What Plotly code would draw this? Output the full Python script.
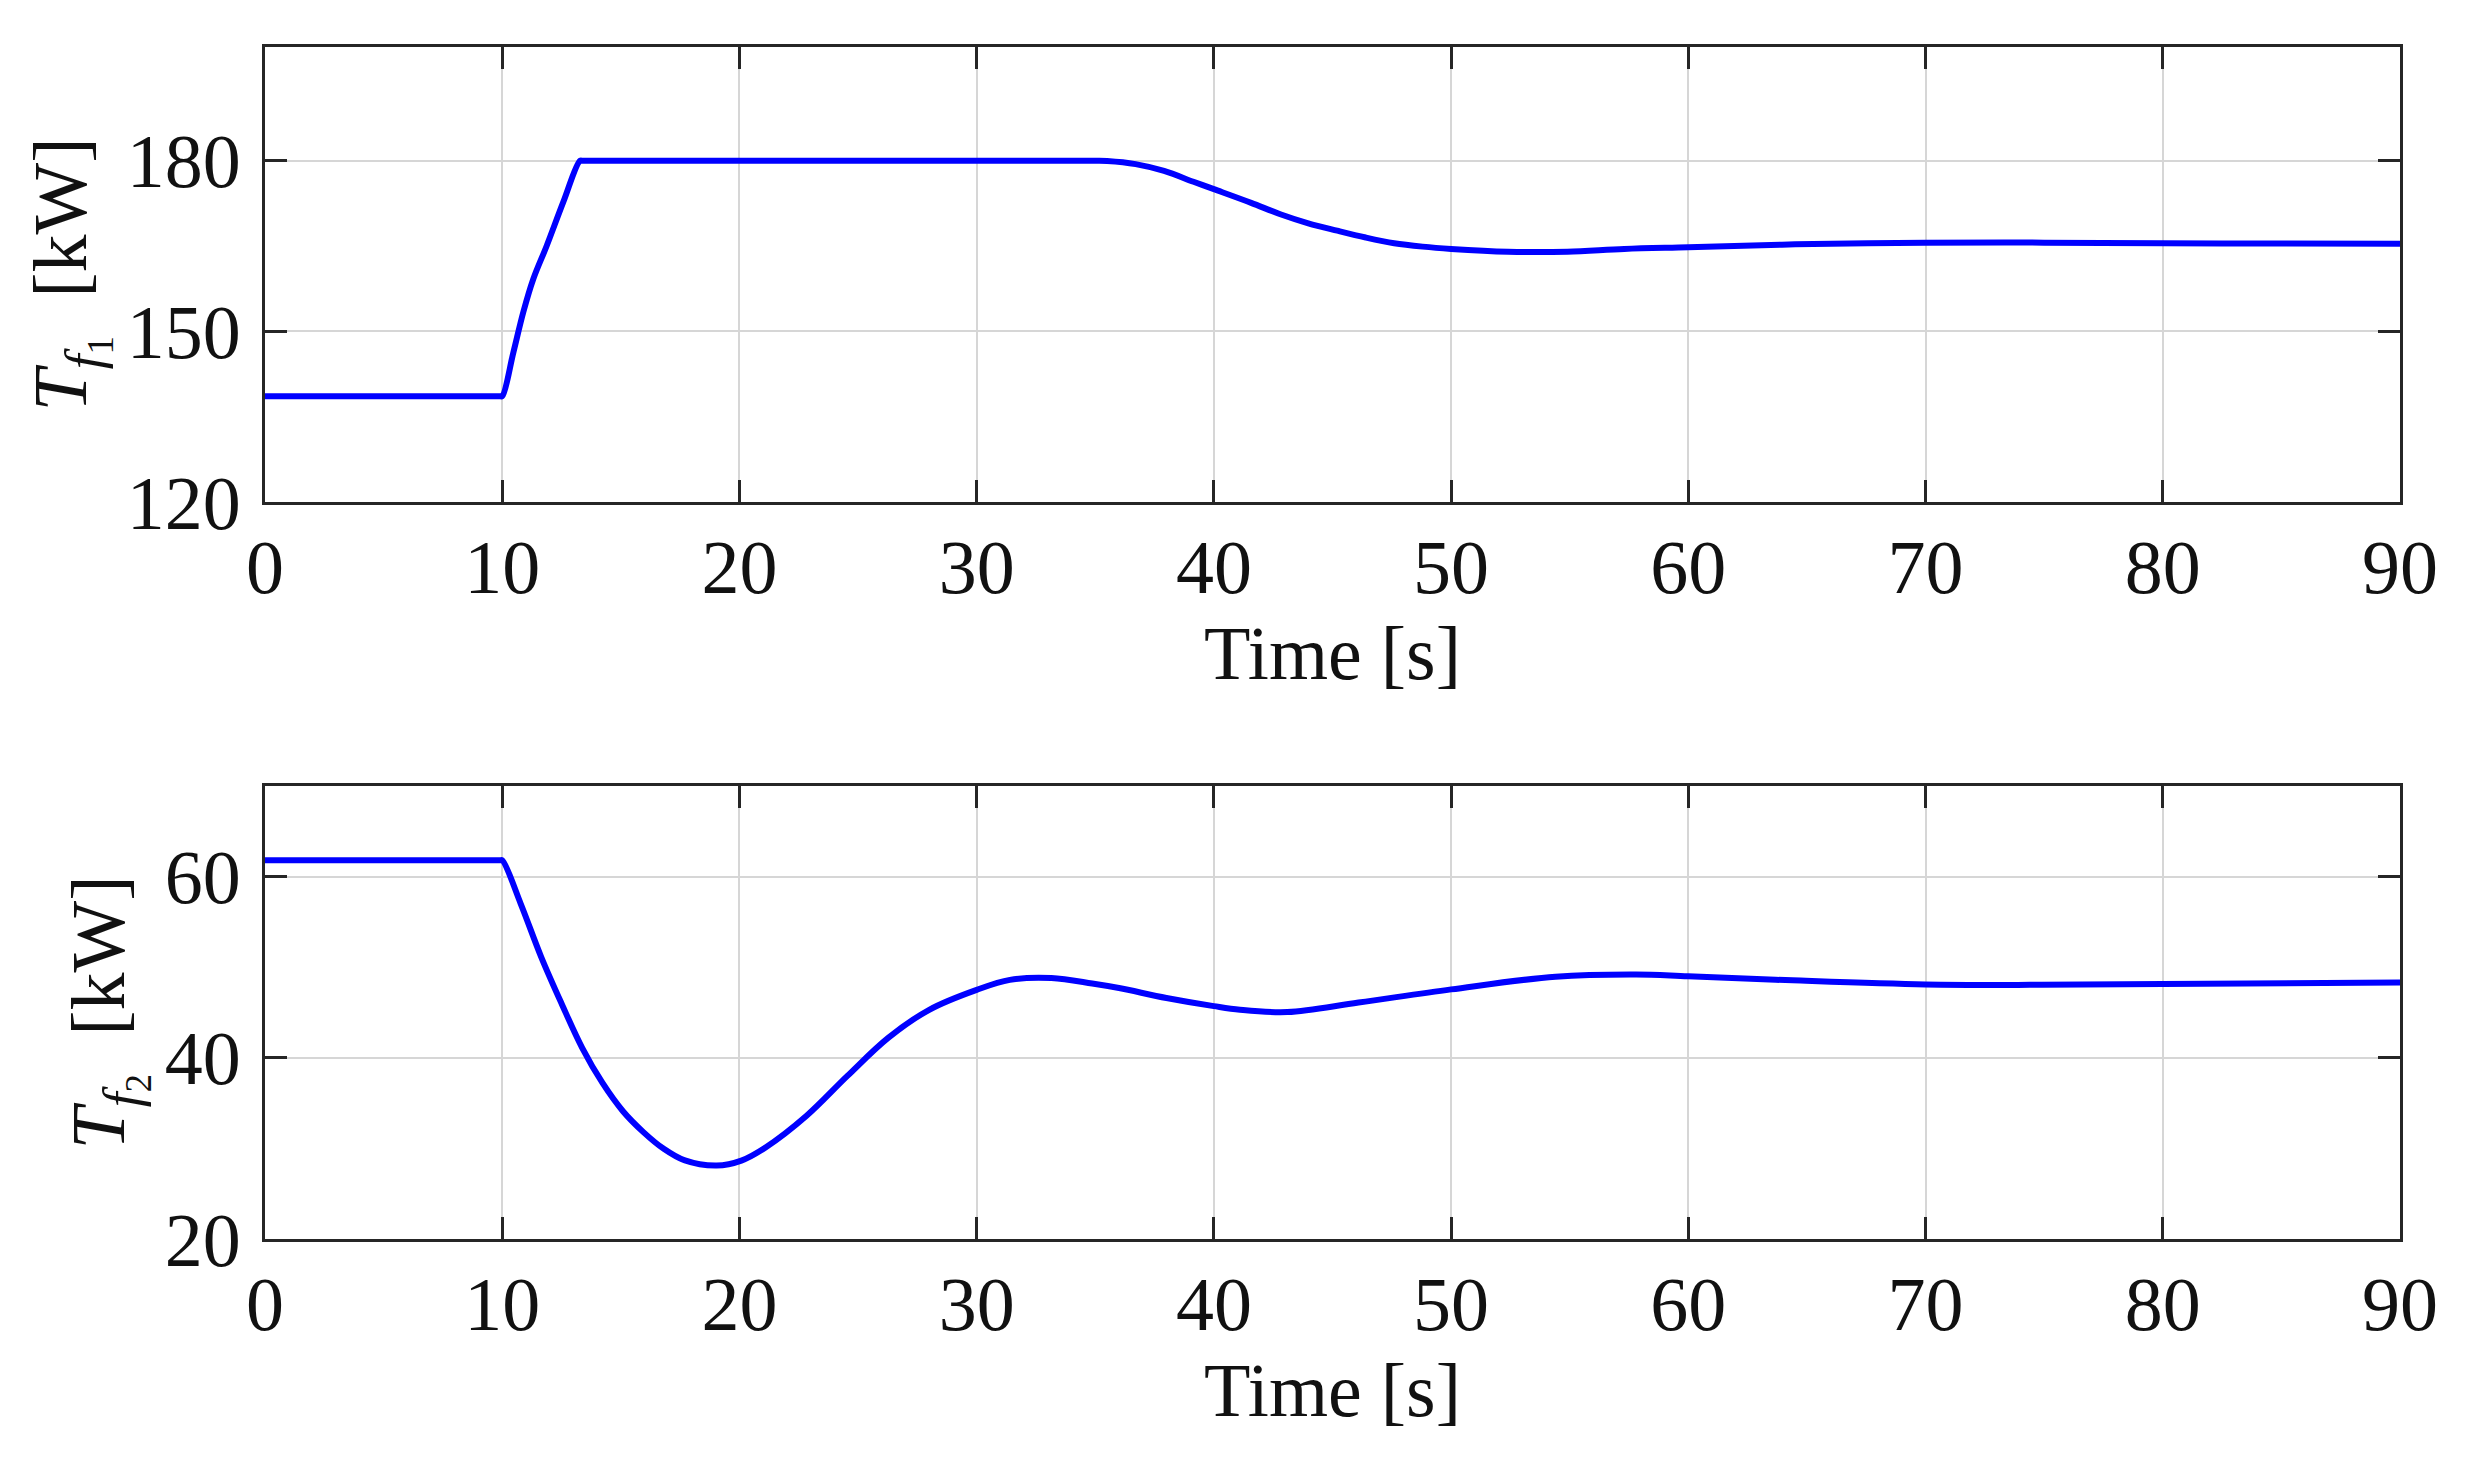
import plotly.graph_objects as go

# ---- data ----
t1 = [0, 9.9, 10, 10.47, 10.89, 11.31, 11.88, 12.58, 13.28, 13.4, 20, 30, 35.0, 35.5, 36.7, 37.9,
      39.14, 40.0, 41.57, 42.8, 43.98, 45.2, 46.4, 47.6, 48.8, 50.0, 52.4, 54.9, 57.3, 60.0,
      64.5, 70.0, 75.0, 80.0, 85.0, 90.0]
tf1 = [138.6, 138.6, 138.6, 146.3, 153.4, 159.2, 165.1, 172.8, 180.0, 180.0, 180.0, 180.0, 180.0,
       179.95, 179.4, 178.2, 176.3, 175.0, 172.6, 170.6, 169.0, 167.7, 166.5, 165.5, 164.9,
       164.5, 164.0, 164.0, 164.5, 164.8, 165.3, 165.6, 165.6, 165.5, 165.45, 165.4]

t2 = [0, 9.9, 10, 10.78, 11.64, 12.5, 13.37, 14.22, 15.09, 15.95, 16.81, 17.67, 19.04, 20.08, 21.1,
      22.83, 24.55, 26.27, 28.0, 30.0, 31.4, 33.15, 34.87, 36.0, 38.0, 40.0, 41.1, 43.1, 46.1,
      50.0, 54.4, 57.8, 60.0, 64.4, 70.0, 74.4, 80.0, 90.0]
tf2 = [61.8, 61.8, 61.8, 57.0, 51.15, 46.0, 41.1, 37.25, 34.1, 31.8, 29.95, 28.7, 28.1, 28.65,
       30.1, 33.6, 38.0, 42.2, 45.3, 47.5, 48.6, 48.8, 48.2, 47.7, 46.6, 45.7, 45.3, 45.05,
       46.1, 47.55, 48.95, 49.2, 49.0, 48.55, 48.1, 48.05, 48.15, 48.3]

x_ticks = [0, 10, 20, 30, 40, 50, 60, 70, 80, 90]
y1_ticks = [120, 150, 180]
y2_ticks = [20, 40, 60]
y1_range = [120, 200]
y2_range = [20, 70]
x_range = [0, 90]

FONT = "Liberation Serif"
FS = 76
AX = "#262626"
GRID = "#d6d6d6"
BLUE = "#0000ff"

# page has an 8px body margin; figure is sized to fit inside it
OFF = 8
W, H = 2479 - 2 * OFF, 1484 - 2 * OFF


def xd(a, b):
    return [(a - OFF) / W, (b - OFF) / W]


def yd(top, bottom):
    return [1 - (bottom - OFF) / H, 1 - (top - OFF) / H]


fig = go.Figure()
fig.add_trace(go.Scatter(x=t1, y=tf1, mode="lines",
                         line=dict(color=BLUE, width=6, shape="spline", smoothing=1),
                         xaxis="x", yaxis="y", showlegend=False))
fig.add_trace(go.Scatter(x=t2, y=tf2, mode="lines",
                         line=dict(color=BLUE, width=6, shape="spline", smoothing=1),
                         xaxis="x2", yaxis="y2", showlegend=False))

common_x = dict(range=x_range, tickvals=x_ticks, showgrid=True, gridcolor=GRID, gridwidth=2,
                showline=True, linecolor=AX, linewidth=3, mirror="ticks", ticks="inside",
                ticklen=22, tickwidth=3, tickcolor=AX, zeroline=False, automargin=False,
                tickfont=dict(family=FONT, size=FS, color="#111"),
                ticklabelstandoff=-3, domain=xd(265, 2400))
common_y = dict(showgrid=True, gridcolor=GRID, gridwidth=2, showline=True, linecolor=AX,
                linewidth=3, mirror="ticks", ticks="inside", ticklen=22, tickwidth=3,
                tickcolor=AX, zeroline=False, automargin=False,
                tickfont=dict(family=FONT, size=FS, color="#111"), ticklabelstandoff=6)

fig.update_layout(
    width=W, height=H,
    margin=dict(l=0, r=0, t=0, b=0),
    paper_bgcolor="white", plot_bgcolor="white",
    font=dict(family=FONT, size=FS, color="#111"),
    xaxis=dict(**common_x, anchor="y",
               title=dict(text="Time [s]", font=dict(family=FONT, size=FS), standoff=18)),
    yaxis=dict(**common_y, range=y1_range, tickvals=y1_ticks, anchor="x",
               domain=yd(47, 502),
               title=dict(text="<i>T</i><sub><i>f</i><sub>1</sub></sub>  [kW]",
                          font=dict(family=FONT, size=FS), standoff=16)),
    xaxis2=dict(**common_x, anchor="y2",
                title=dict(text="Time [s]", font=dict(family=FONT, size=FS), standoff=18)),
    yaxis2=dict(**common_y, range=y2_range, tickvals=y2_ticks, anchor="x2",
                domain=yd(786, 1239),
                title=dict(text="<i>T</i><sub><i>f</i><sub>2</sub></sub>  [kW]",
                           font=dict(family=FONT, size=FS), standoff=16)),
)

fig.write_html("out.html")
